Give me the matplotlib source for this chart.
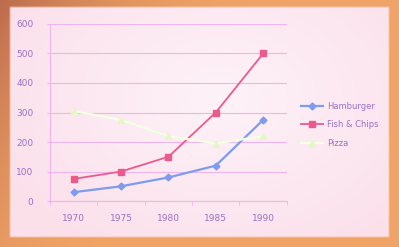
import matplotlib.pyplot as plt
import numpy as np

years = ['1970', '1975', '1980', '1985', '1990']
hamburger = [30, 50, 80, 120, 275]
fish_chips = [75, 100, 150, 300, 500]
pizza = [305, 275, 220, 195, 220]

txt = '#9a70c8'
grid = '#f0b4ec'

fig = plt.figure(figsize=(3.99, 2.47), dpi=100)

# orange photo frame with a soft gradient, pale pink screen inside
bg = fig.add_axes([0, 0, 1, 1], zorder=-10)
gx = np.linspace(0, 1, 200)
gy = np.linspace(0, 1, 124)
X, Y = np.meshgrid(gx, gy)
base = np.array([0.94, 0.64, 0.40])
dark = np.array([0.74, 0.42, 0.30])
w = np.clip(1 - (X * 1.5 + (1 - Y) * 0.6), 0, 1)[..., None] ** 2
frame = base * (1 - w) + dark * w

inside = (X > 0.022) & (X < 0.977) & (Y > 0.035) & (Y < 0.975)
pink = np.array([0.985, 0.88, 0.92])
white = np.array([0.995, 0.95, 0.975])
d = np.clip(np.hypot((X - 0.55) / 0.6, (Y - 0.6) / 0.7), 0, 1)[..., None]
screen = white * (1 - d) + pink * d
img = np.where(inside[..., None], screen, frame)
bg.imshow(img, extent=[0, 1, 0, 1], aspect='auto', origin='lower', interpolation='bilinear')
bg.set_xlim(0, 1)
bg.set_ylim(0, 1)
bg.axis('off')

ax = fig.add_axes([0.125, 0.186, 0.594, 0.717])
ax.set_facecolor('none')
x = np.arange(len(years))

ax.plot(x, hamburger, color='#7d9cf0', marker='D', ms=3.5, lw=1.6, label='Hamburger')
ax.plot(x, fish_chips, color='#ec5a8c', marker='s', ms=4, lw=1.3, label='Fish & Chips')
ax.plot(x, pizza, color='#f4ffe6', marker='^', ms=4, lw=1.6, mfc='#e4f7c8',
        mec='#e4f7c8', label='Pizza')

ax.set_xlim(-0.5, 4.5)
ax.set_ylim(0, 600)
ax.set_yticks(range(0, 601, 100))
ax.set_xticks(x)
ax.set_xticklabels(years)
ax.set_xticks(np.arange(-0.5, 4.6, 1), minor=True)
ax.tick_params(axis='x', which='major', length=0, pad=9, labelsize=6.5, labelcolor=txt)
ax.tick_params(axis='x', which='minor', length=3, color=grid)
ax.tick_params(axis='y', length=2, color=grid, labelsize=6.5, labelcolor=txt, pad=10)
ax.grid(axis='y', color=grid, lw=0.8)
ax.set_axisbelow(True)
for s in ['top', 'right']:
    ax.spines[s].set_visible(False)
ax.spines['left'].set_color(grid)
ax.spines['bottom'].set_color(grid)

ax.legend(loc='center left', bbox_to_anchor=(1.03, 0.43), frameon=False,
          fontsize=6, labelcolor=txt, handlelength=2.6, handletextpad=0.5,
          labelspacing=1.1)

plt.savefig('out.png', dpi=100)
